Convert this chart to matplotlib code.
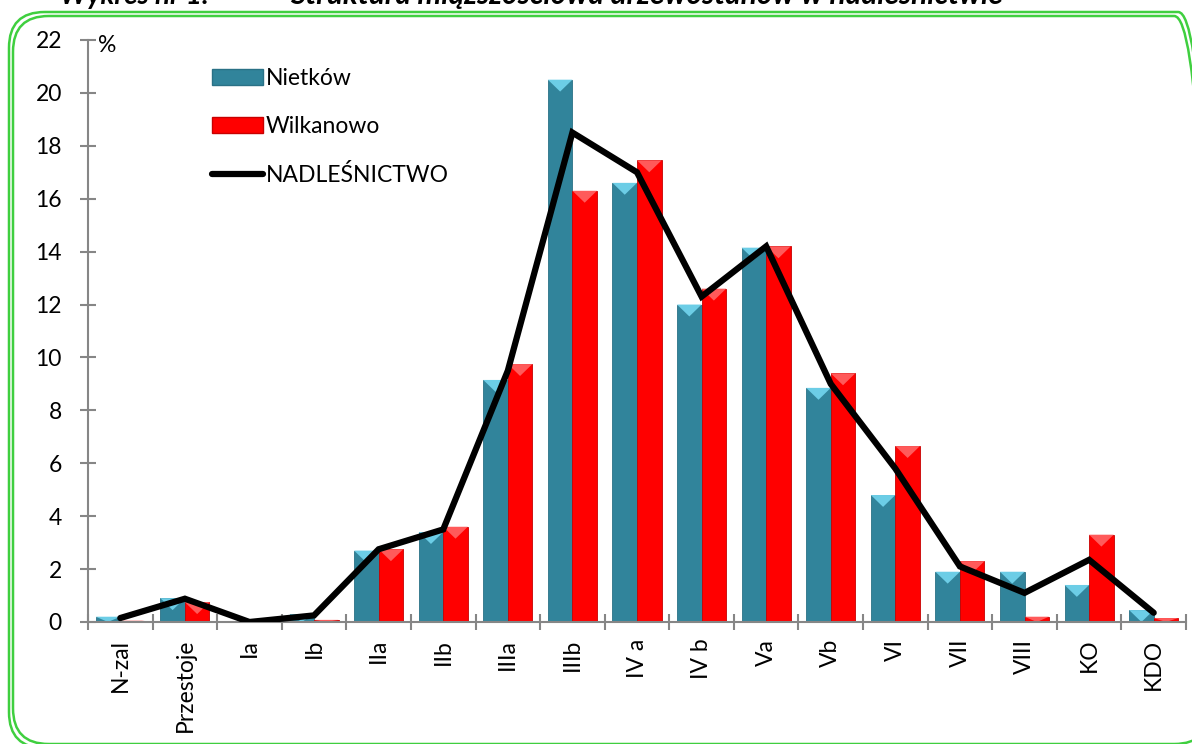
import matplotlib
matplotlib.use("Agg")
import matplotlib.pyplot as plt
from matplotlib.patches import FancyBboxPatch, Polygon, Patch
from matplotlib.lines import Line2D
import numpy as np

categories = ["N-zal", "Przestoje", "Ia", "Ib", "IIa", "IIb", "IIIa", "IIIb", "IV a",
              "IV b", "Va", "Vb", "VI", "VII", "VIII", "KO", "KDO"]
nietkow = [0.2, 0.9, 0.0, 0.3, 2.7, 3.4, 9.15, 20.5, 16.6, 12.0, 14.15, 8.85, 4.8, 1.9, 1.9, 1.4, 0.45]
wilkanowo = [0.05, 0.75, 0.0, 0.08, 2.75, 3.6, 9.75, 16.3, 17.45, 12.6, 14.2, 9.4, 6.65, 2.3, 0.2, 3.3, 0.15]
nadlesnictwo = [0.15, 0.88, 0.0, 0.25, 2.75, 3.5, 9.5, 18.5, 17.0, 12.3, 14.2, 9.0, 5.8, 2.1, 1.1, 2.35, 0.35]
yticks = list(range(0, 23, 2))

FONT = ["Lato", "DejaVu Sans"]
plt.rcParams['font.family'] = FONT
FS = 16.5

W, H = 1192, 744
fig = plt.figure(figsize=(W / 100, H / 100), dpi=100)
fig.patch.set_facecolor("white")

# green double rounded frame (right side runs past the picture edge)
green = "#3fcf3f"
for off in (0, 4):
    x0, y0 = 9 + off, 12 + off
    x1, y1 = 1214 - off, 748 - off
    fr = FancyBboxPatch((x0 / W, 1 - y1 / H), (x1 - x0) / W, (y1 - y0) / H,
                        boxstyle="round,pad=0,rounding_size=0.03",
                        transform=fig.transFigure, fill=False,
                        edgecolor=green, linewidth=1.8, mutation_aspect=W / H)
    fig.patches.append(fr)

# title, cut off at the top edge as in the reference
fig.text(60 / W, 1 - 4 / H, "Wykres nr 1.", fontsize=20, fontweight="bold",
         style="italic", va="baseline", ha="left")
fig.text(290 / W, 1 - 4 / H, "Struktura miąższościowa drzewostanów w nadleśnictwie",
         fontsize=21.5, fontweight="bold", style="italic", va="baseline", ha="left")

ax = fig.add_axes([88 / W, 1 - 622 / H, (1186 - 88) / W, (622 - 40) / H])
x = np.arange(len(categories))
bw = 0.38
teal, teal_e, teal_l = "#31849B", "#2a7186", "#6ccde6"
red, red_e, red_l = "#FF0000", "#c80000", "#ff5a5a"
ax.bar(x - bw / 2, nietkow, width=bw, color=teal, edgecolor=teal_e,
       linewidth=0.6, label="Nietków", zorder=2)
ax.bar(x + bw / 2, wilkanowo, width=bw, color=red, edgecolor=red_e,
       linewidth=0.6, label="Wilkanowo", zorder=2)

# bevel highlight at the top of each bar
cap = 0.45
for xs, vals, lc in ((x - bw / 2, nietkow, teal_l), (x + bw / 2, wilkanowo, red_l)):
    for xc, v in zip(xs, vals):
        if v <= 0:
            continue
        h = min(cap, v)
        tri = Polygon([(xc - bw / 2, v), (xc + bw / 2, v), (xc, v - h)],
                      closed=True, facecolor=lc, edgecolor="none", zorder=2.1)
        ax.add_patch(tri)

ax.plot(x, nadlesnictwo, color="black", linewidth=4.5, solid_capstyle="round",
        solid_joinstyle="miter", label="NADLEŚNICTWO", zorder=3)

ax.set_xlim(-0.5, len(categories) - 0.5)
ax.set_ylim(0, 22)
ax.set_yticks(yticks)
ax.set_yticklabels([str(v) for v in yticks])
ax.set_xticks(x)
ax.set_xticklabels(categories, rotation=90, va="top", ha="center")
ax.set_xticks(np.arange(len(categories) + 1) - 0.5, minor=True)

axis_grey = "#868686"
for s in ("top", "right"):
    ax.spines[s].set_visible(False)
for s in ("left", "bottom"):
    ax.spines[s].set_color(axis_grey)
    ax.spines[s].set_linewidth(1.5)
ax.tick_params(axis="y", direction="inout", length=11.5, width=1.5, color=axis_grey,
               labelsize=FS, pad=13)
ax.tick_params(axis="x", which="major", length=0, labelsize=FS, pad=12)
ax.tick_params(axis="x", which="minor", direction="inout", length=11.5, width=1.5,
               color=axis_grey)

ax.text(98 / W, 1 - 46 / H, "%", transform=fig.transFigure, fontsize=FS,
        va="center", ha="left")

handles = [Patch(facecolor=teal, edgecolor=teal_e),
           Patch(facecolor=red, edgecolor=red_e),
           Line2D([0], [0], color="black", linewidth=4.5, solid_capstyle="round")]
leg = ax.legend(handles, ["Nietków", "Wilkanowo", "NADLEŚNICTWO"],
                loc="upper left", bbox_to_anchor=(203 / W, 1 - 59 / H),
                bbox_transform=fig.transFigure, frameon=False, fontsize=FS,
                handlelength=2.2, handleheight=0.7, handletextpad=0.13,
                labelspacing=1.18, borderaxespad=0)

fig.savefig("out.png", dpi=100, facecolor="white")
